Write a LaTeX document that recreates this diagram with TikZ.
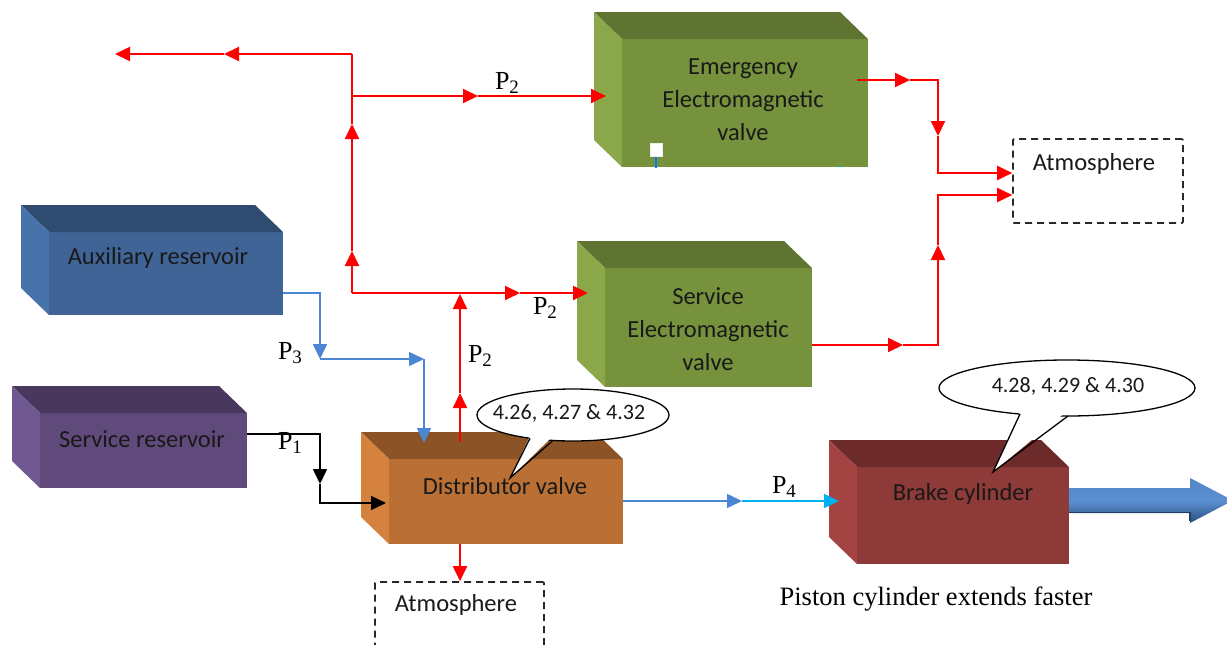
\documentclass[tikz,border=0pt]{standalone}
\usepackage{fontspec}
\setmainfont{Carlito}
\newfontfamily\serifP{Liberation Serif}
\usetikzlibrary{arrows.meta,calc}
\definecolor{auxF}{RGB}{64,100,150}
\definecolor{auxT}{RGB}{47,75,112}
\definecolor{auxL}{RGB}{72,115,170}
\definecolor{srvF}{RGB}{96,74,123}
\definecolor{srvT}{RGB}{73,56,94}
\definecolor{srvL}{RGB}{112,88,145}
\definecolor{disF}{RGB}{186,112,52}
\definecolor{disT}{RGB}{140,84,38}
\definecolor{disL}{RGB}{212,130,62}
\definecolor{brkF}{RGB}{142,58,56}
\definecolor{brkT}{RGB}{108,43,42}
\definecolor{brkL}{RGB}{163,68,66}
\definecolor{grnF}{RGB}{118,146,60}
\definecolor{grnT}{RGB}{94,116,48}
\definecolor{grnL}{RGB}{138,168,74}
\definecolor{pipeblue}{RGB}{74,134,212}
\definecolor{pipecyan}{RGB}{0,176,240}
\definecolor{dashgray}{RGB}{40,40,40}
\definecolor{txt}{RGB}{25,25,25}
\definecolor{arrTop}{RGB}{82,132,198}
\definecolor{arrMid}{RGB}{92,144,210}
\definecolor{arrBot}{RGB}{40,78,128}
\definecolor{arrShadow}{RGB}{35,60,100}
\newcommand\cubefaces[3]{%
  \fill[#2] (#1.north west) -- (#1.north east) -- ++(-28,-27) -- ($(#1.north west)+(-28,-27)$) -- cycle;
  \fill[#3] (#1.north west) -- ($(#1.north west)+(-28,-27)$) -- ($(#1.south west)+(-28,-27)$) -- (#1.south west) -- cycle;
}
\newcommand\Plab[1]{{\serifP\fontsize{26}{26}\selectfont P\raisebox{-4pt}{\fontsize{19}{19}\selectfont #1}}}
\begin{document}
\begin{tikzpicture}[x=1pt,y=-1pt,
  cube/.style={rectangle, inner sep=0pt, outer sep=0pt, draw=none},
  boxtxt/.style={inner sep=0pt, text=txt, font=\fontsize{24.5}{33}\selectfont, align=center},
  atm/.style={rectangle, inner sep=0pt, draw=dashgray, line width=1.6pt, dash pattern=on 7pt off 5pt, rounded corners=1pt},
  redl/.style={draw=red, line width=1.9pt},
  bl/.style={draw=pipeblue, line width=1.6pt},
  cy/.style={draw=pipecyan, line width=1.6pt},
  blk/.style={draw=black, line width=1.6pt},
  tip/.style={-{Triangle[length=15pt,width=14pt]}},
  call/.style={draw=black, line width=1.3pt}
]
\path[use as bounding box] (0,0) rectangle (1227,645);
\clip (0,0) rectangle (1227,645);

% ---- cuboid boxes (front faces) ----
\node[cube, fill=auxF, minimum width=234pt, minimum height=83pt] (aux) at (166,273.5) {};
\node[cube, fill=srvF, minimum width=207pt, minimum height=75pt] (srv) at (143.5,450.5) {};
\node[cube, fill=disF, minimum width=234pt, minimum height=85pt] (dist) at (506,501.5) {};
\node[cube, fill=brkF, minimum width=212pt, minimum height=97pt] (brake) at (963,515.5) {};
\node[cube, fill=grnF, minimum width=246pt, minimum height=128pt] (emv) at (745,103) {};
\node[cube, fill=grnF, minimum width=207pt, minimum height=119pt] (sev) at (708.5,327.5) {};
\cubefaces{aux}{auxT}{auxL}
\cubefaces{srv}{srvT}{srvL}
\cubefaces{dist}{disT}{disL}
\cubefaces{brake}{brkT}{brkL}
\cubefaces{emv}{grnT}{grnL}
\cubefaces{sev}{grnT}{grnL}

% ---- box texts ----
\node[boxtxt] (auxtxt) at (158,258) {Auxiliary reservoir};
\node[boxtxt] (srvtxt) at (142,439) {Service reservoir};
\node[boxtxt] (disttxt) at (505,486) {Distributor valve};
\node[boxtxt] (braketxt) at (963,494) {Brake cylinder};
\node[boxtxt] (emvtxt) at (743,100) {Emergency\\Electromagnetic\\valve};
\node[boxtxt] (sevtxt) at (708,329) {Service\\Electromagnetic\\valve};

% small marks on emergency valve
\draw[draw=pipecyan!70!blue, line width=1.2pt] (656,156) -- (656,168);
\draw[draw=white!85!gray, fill=white, line width=0.6pt] (650.5,143) rectangle (662.5,156);
\fill[pipecyan] (840,166.5) circle (1.2pt);

% ---- atmosphere boxes ----
\node[atm, minimum width=170pt, minimum height=84pt] (atm1) at (1098,181) {};
\node[boxtxt] (atm1txt) at (1094,164) {Atmosphere};
\node[atm, minimum width=169pt, minimum height=80pt] (atm2) at (459.5,622) {};
\node[boxtxt] (atm2txt) at (456,605) {Atmosphere};

% ---- red network ----
\coordinate (j1) at (352,293);
\coordinate (j2) at (352,96);
\coordinate (j3) at (352,54);
\coordinate (v1) at (352,251);
\coordinate (v2) at (352,124);
\coordinate (l1) at (224,54);
\coordinate (l2) at (115,54);
\draw[redl,tip] (j1) -- (v1);
\draw[redl,tip] (v1) -- (v2);
\draw[redl] (v2) -- (j3);
\draw[redl,tip] (j3) -- (l1);
\draw[redl,tip] (l1) -- (l2);
\coordinate (e1) at (478,96);
\coordinate (e2) at (606,96);
\draw[redl,tip] (j2) -- (e1);
\draw[redl,tip] (e1) -- (e2);
\coordinate (s1) at (520,293);
\coordinate (s2) at (588,293);
\draw[redl,tip] (j1) -- (s1);
\draw[redl,tip] (s1) -- (s2);
\coordinate (d0) at (460,442);
\coordinate (d1) at (460,393);
\coordinate (d2) at (460,294);
\draw[redl,tip] (d0) -- (d1);
\draw[redl,tip] (d1) -- (d2);
\coordinate (d3) at (460,544);
\draw[redl,tip] (d3) -- (atm2.north -| d3);
% emergency outlet
\coordinate (o1) at (857,80);
\coordinate (o2) at (910,80);
\coordinate (o3) at (938,80);
\coordinate (o4) at (938,136);
\coordinate (o5) at (938,173);
\draw[redl,tip] (o1) -- (o2);
\draw[redl,tip] (o2) -- (o3) -- (o4);
\draw[redl,tip] (o4) -- (o5) -- (o5 -| atm1.west);
% service outlet
\coordinate (q1) at (sev.east |- 0,345);
\coordinate (q2) at (903,345);
\coordinate (q3) at (938,345);
\coordinate (q4) at (938,245);
\coordinate (q5) at (938,195);
\draw[redl,tip] (q1) -- (q2);
\draw[redl,tip] (q2) -- (q3) -- (q4);
\draw[redl,tip] (q4) -- (q5) -- (q5 -| atm1.west);

% ---- auxiliary reservoir to distributor (blue) ----
\coordinate (a1) at ([yshift=22pt]aux.south east);
\coordinate (a2) at (320,293);
\coordinate (a3) at (320,359);
\coordinate (a4) at (424,359);
\coordinate (a5) at (424,443);
\draw[bl,tip] (a1) -- (a2) -- (a3);
\draw[bl,tip] (a3) -- (a4);
\draw[bl,tip] (a4) -- (a5);

% ---- service reservoir to distributor (black) ----
\coordinate (b1) at ([yshift=-21pt]srv.north east);
\coordinate (b2) at (320,434);
\coordinate (b3) at (320,484);
\coordinate (b4) at (320,503);
\coordinate (b5) at (386,503);
\draw[blk,tip] (b1) -- (b2) -- (b3);
\draw[blk,tip] (b3) -- (b4) -- (b5);

% ---- distributor to brake cylinder ----
\coordinate (c1) at (dist.east |- 0,501);
\coordinate (c2) at (742,501);
\coordinate (c3) at (839,501);
\draw[bl,tip] (c1) -- (c2);
\draw[cy,tip] (c2) -- (c3);

% ---- pressure labels ----
\node[inner sep=0pt] (p2a) at (507,83) {\Plab{2}};
\node[inner sep=0pt] (p2b) at (545,308) {\Plab{2}};
\node[inner sep=0pt] (p2c) at (480,356) {\Plab{2}};
\node[inner sep=0pt] (p3) at (290,353) {\Plab{3}};
\node[inner sep=0pt] (p1) at (290,443) {\Plab{1}};
\node[inner sep=0pt] (p4) at (784,487) {\Plab{4}};

% ---- callouts ----
\draw[call, fill=white] (573,415) ellipse [x radius=96pt, y radius=26pt];
\fill[white] (531,434) -- (510,478) -- (553,436) -- cycle;
\draw[call, line join=miter] (530,438.3) -- (510,478) -- (553,440.4);
\node[inner sep=0pt, text=txt, font=\fontsize{22}{22}\selectfont] (c1txt) at (569,413) {4.26, 4.27 \& 4.32};

\draw[call, fill=white] (1067,388) ellipse [x radius=128pt, y radius=28pt];
\fill[white] (1021,410) -- (993,472) -- (1067,411) -- cycle;
\draw[call, line join=miter] (1020,414) -- (993,472) -- (1068,416);
\node[inner sep=0pt, text=txt, font=\fontsize{22}{22}\selectfont] (c2txt) at (1068,386) {4.28, 4.29 \& 4.30};

% ---- piston arrow ----
\shade[top color=arrTop, bottom color=arrBot, middle color=arrMid]
  (brake.east |- 0,488) -- (1190,488) -- (1190,478) -- (1233,500.5) -- (1190,523) -- (1190,513) -- (brake.east |- 0,513) -- cycle;
\draw[draw=arrShadow, line width=1.5pt] (brake.east |- 0,512.5) -- (1190,512.5) -- (1190,521);

\node[inner sep=0pt, text=black, font=\serifP\fontsize{26.5}{27}\selectfont] (piston) at (936,599) {Piston cylinder extends faster};
\end{tikzpicture}
\end{document}
